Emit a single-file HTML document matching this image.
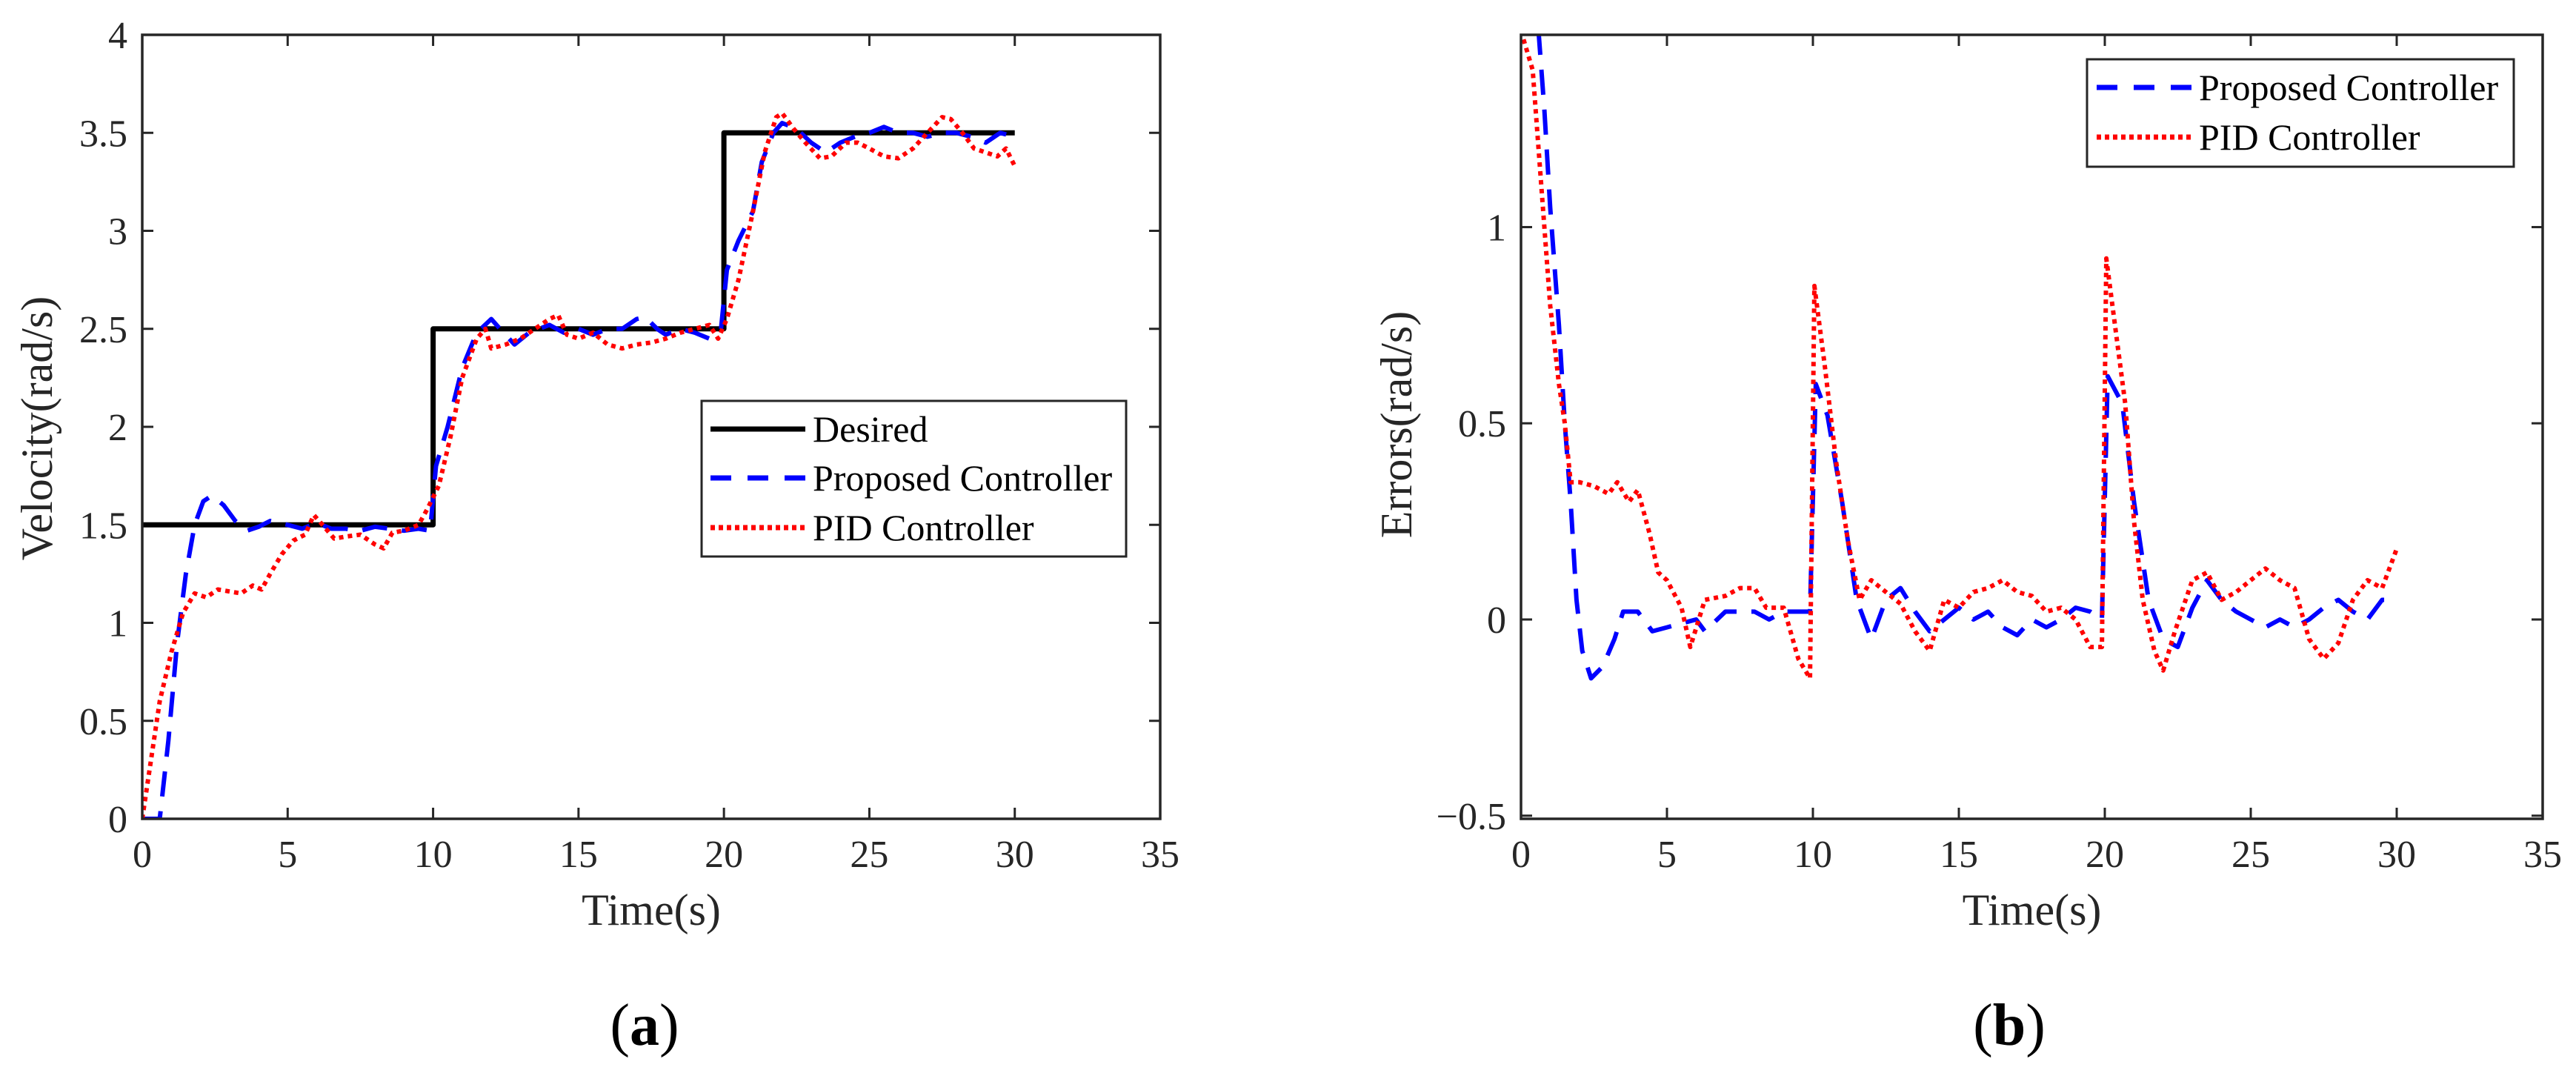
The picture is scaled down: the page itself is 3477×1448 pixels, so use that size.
<!DOCTYPE html>
<html><head><meta charset="utf-8"><style>
html,body{margin:0;padding:0;background:#fff;}
svg{display:block;font-family:"Liberation Serif",serif;}
</style></head><body>
<svg id="fig" width="3477" height="1448" viewBox="0 0 3477 1448" xmlns="http://www.w3.org/2000/svg"></svg>
<script>
// ---- Chart (a) data ----
const tDes = [0, 10, 10, 20, 20, 30];
const vDes = [1.5, 1.5, 2.5, 2.5, 3.5, 3.5];
const tPropA = [0,0.6,0.9,1.2,1.5,1.8,2.1,2.4,2.8,3.2,3.6,4,4.4,5,5.5,6,6.5,7,7.5,8,8.5,9,9.5,9.9,10.1,10.5,11,11.5,12,12.3,12.8,13.3,14,14.5,15,15.5,16,16.5,17,17.3,17.7,18,18.5,19,19.5,19.9,20.1,20.5,21,21.3,21.7,22,22.5,23,23.5,24,24.5,25,25.5,26,26.5,27,27.5,28,28.5,29,29.5,30];
const vPropA = [0,0,0.4,0.9,1.25,1.5,1.62,1.65,1.6,1.52,1.47,1.49,1.52,1.5,1.48,1.51,1.48,1.48,1.47,1.49,1.48,1.47,1.48,1.47,1.8,2.0,2.3,2.48,2.55,2.5,2.42,2.48,2.52,2.48,2.5,2.47,2.5,2.5,2.55,2.56,2.5,2.47,2.5,2.48,2.45,2.5,2.8,2.95,3.1,3.35,3.5,3.55,3.52,3.45,3.4,3.45,3.48,3.5,3.53,3.5,3.5,3.48,3.5,3.5,3.48,3.45,3.5,3.48];
const tPidA = [0,0.3,0.6,1,1.4,1.8,2.2,2.6,3,3.4,3.8,4.1,4.4,4.8,5.2,5.6,5.9,6.2,6.6,7,7.5,8,8.3,8.6,9,9.5,9.8,10.2,10.6,11,11.5,11.8,12,12.5,13,13.5,14,14.3,14.6,15,15.5,16,16.5,17,17.5,18,18.5,19,19.5,19.8,20.1,20.5,21,21.4,21.8,22,22.4,22.8,23.3,23.7,24.2,24.6,25,25.5,26,26.5,27,27.5,27.8,28.2,28.6,29,29.4,29.7,30];
const vPidA = [0,0.3,0.6,0.85,1.05,1.15,1.13,1.17,1.16,1.15,1.19,1.17,1.25,1.35,1.42,1.45,1.55,1.5,1.43,1.44,1.45,1.4,1.38,1.46,1.47,1.5,1.58,1.7,1.95,2.25,2.45,2.5,2.4,2.42,2.45,2.5,2.55,2.57,2.47,2.45,2.48,2.42,2.4,2.42,2.43,2.45,2.48,2.5,2.52,2.45,2.55,2.75,3.1,3.4,3.58,3.6,3.52,3.45,3.37,3.38,3.45,3.45,3.42,3.38,3.37,3.42,3.5,3.58,3.57,3.5,3.42,3.4,3.38,3.42,3.33];
const xTicksA = [0,5,10,15,20,25,30,35];
const yTicksA = [0,0.5,1,1.5,2,2.5,3,3.5,4];
const yTickLabelsA = ["0","0.5","1","1.5","2","2.5","3","3.5","4"];
// ---- Chart (b) data ----
const tPropB = [0,0.5,0.8,1,1.3,1.5,1.7,1.9,2.1,2.4,2.8,3.2,3.5,4,4.5,5,6,6.3,7,8,8.5,9,9.5,9.9,10.1,10.5,11,11.5,12,12.5,13,13.5,14,14.5,15,15.5,16,16.5,17,17.5,18,18.5,19,19.5,19.9,20.1,20.6,21,21.5,22,22.5,23,23.5,24,24.5,25,25.5,26,26.5,27,27.5,28,28.5,29,29.5,30];
const ePropB = [1.7,1.6,1.3,1.05,0.75,0.5,0.3,0.05,-0.08,-0.15,-0.12,-0.05,0.02,0.02,-0.03,-0.02,0.0,-0.03,0.02,0.02,0.0,0.02,0.02,0.02,0.6,0.52,0.3,0.05,-0.05,0.05,0.08,0.02,-0.03,0.0,0.03,0.0,0.02,-0.02,-0.04,0.0,-0.02,0.0,0.03,0.02,0.0,0.62,0.55,0.3,0.05,-0.05,-0.07,0.03,0.1,0.05,0.02,0.0,-0.02,0.0,-0.02,0.0,0.03,0.05,0.02,0.0,0.05,0.05];
const tPidB = [0,0.4,0.7,1,1.3,1.5,1.7,2,2.5,3,3.3,3.7,4,4.4,4.7,5,5.5,5.8,6.3,7,7.5,8,8.4,9,9.5,9.9,10.05,10.4,10.8,11.2,11.6,12,12.5,13,13.5,14,14.5,15,15.5,16,16.5,17,17.5,18,18.5,19,19.5,19.9,20.05,20.4,20.7,21,21.3,21.7,22,22.4,23,23.5,24,24.5,25,25.5,26,26.5,27,27.5,28,28.5,29,29.5,30];
const ePidB = [1.5,1.4,1.1,0.8,0.6,0.5,0.35,0.35,0.34,0.32,0.35,0.3,0.33,0.22,0.12,0.1,0.03,-0.07,0.05,0.06,0.08,0.08,0.03,0.03,-0.1,-0.15,0.85,0.65,0.4,0.2,0.05,0.1,0.07,0.04,-0.03,-0.08,0.05,0.03,0.07,0.08,0.1,0.07,0.06,0.02,0.03,0.0,-0.07,-0.07,0.92,0.72,0.55,0.25,0.05,-0.08,-0.13,-0.03,0.1,0.12,0.05,0.07,0.1,0.13,0.1,0.08,-0.05,-0.1,-0.06,0.05,0.1,0.08,0.18];
const xTicksB = [0,5,10,15,20,25,30,35];
const yTicksB = [-0.5,0,0.5,1];
const yTickLabelsB = ["\u22120.5","0","0.5","1"];

const NS = "http://www.w3.org/2000/svg";
const svg = document.getElementById("fig");
function mk(tag, attrs, parent){
  const e = document.createElementNS(NS, tag);
  for (const k in attrs) e.setAttribute(k, attrs[k]);
  (parent||svg).appendChild(e);
  return e;
}
function makeScale(d0,d1,r0,r1){ return v => r0 + (v-d0)/(d1-d0)*(r1-r0); }

function drawChart(cfg){
  const g = mk("g", {});
  
  
  const X = makeScale(cfg.xmin,cfg.xmax,cfg.L,cfg.R);
  const Y = makeScale(cfg.ymin,cfg.ymax,cfg.B,cfg.T);
  const clipId = cfg.name+"-clip";
  const defs = mk("defs",{},g);
  const cp = mk("clipPath",{id:clipId},defs);
  mk("rect",{x:cfg.L,y:cfg.T,width:cfg.R-cfg.L,height:cfg.B-cfg.T},cp);
  // ticks
  cfg.xTicks.forEach(v=>{
    const x = X(v);
    const t1 = mk("line",{x1:x,x2:x,y1:cfg.B,y2:cfg.B-15,stroke:"#262626","stroke-width":3},g);
    
    
    mk("line",{x1:x,x2:x,y1:cfg.T,y2:cfg.T+15,stroke:"#262626","stroke-width":3},g);
    const tx = mk("text",{x:x,y:cfg.B+65,"font-size":52,fill:"#262626","text-anchor":"middle"},g);
    tx.textContent = String(v);
    
    
  });
  cfg.yTicks.forEach((v,i)=>{
    const y = Y(v);
    const t1 = mk("line",{x1:cfg.L,x2:cfg.L+15,y1:y,y2:y,stroke:"#262626","stroke-width":3},g);
    
    
    mk("line",{x1:cfg.R,x2:cfg.R-15,y1:y,y2:y,stroke:"#262626","stroke-width":3},g);
    const tx = mk("text",{x:cfg.L-20,y:y+18,"font-size":52,fill:"#262626","text-anchor":"end"},g);
    tx.textContent = cfg.yLabels[i];
    
    
  });
  // series
  const sg = mk("g",{"clip-path":"url(#"+clipId+")"},g);
  cfg.series.forEach(s=>{
    const pts = s.t.map((t,i)=>X(t).toFixed(1)+","+Y(s.v[i]).toFixed(1)).join(" ");
    const p = mk("polyline",{points:pts,fill:"none",stroke:s.color,"stroke-width":s.w,"stroke-dasharray":s.dash||"none","stroke-linejoin":"round"},sg);
    
    
  });
  // box
  const box = mk("rect",{x:cfg.L,y:cfg.T,width:cfg.R-cfg.L,height:cfg.B-cfg.T,fill:"none",stroke:"#262626","stroke-width":3.5},g);
  
  
  // labels
  const xl = mk("text",{x:(cfg.L+cfg.R)/2,y:1248,"font-size":60,fill:"#262626","text-anchor":"middle"},g);
  xl.textContent = "Time(s)";
  
  
  const yl = mk("text",{x:0,y:0,"font-size":60,fill:"#262626","text-anchor":"middle",transform:"translate("+cfg.ylx+","+cfg.yly+") rotate(-90)"},g);
  yl.textContent = cfg.ylabel;
  
  
  const cap = mk("text",{x:cfg.capX,y:1410,"font-size":80,fill:"#000","text-anchor":"middle"},g);
  cap.innerHTML = '(<tspan font-weight="bold">'+cfg.cap+'</tspan>)';
  
  
  // legend
  const lg = mk("g",{},g);
  
  
  const lb = cfg.legend;
  mk("rect",{x:lb.x,y:lb.y,width:lb.w,height:lb.h,fill:"#fff",stroke:"#262626","stroke-width":3},lg);
  lb.items.forEach(it=>{
    const e = mk("g",{},lg);
    
    
    mk("line",{x1:lb.lx1,x2:lb.lx2,y1:it.y,y2:it.y,stroke:it.color,"stroke-width":it.w,"stroke-dasharray":it.dash||"none"},e);
    const t = mk("text",{x:lb.tx,y:it.y+17,"font-size":50,fill:"#000"},e);
    t.textContent = it.label;
  });
}

drawChart({name:"velocity-chart",L:192,R:1566,T:47,B:1105,xmin:0,xmax:35,ymin:0,ymax:4,
  xTicks:xTicksA,yTicks:yTicksA,yLabels:yTickLabelsA,ylabel:"Velocity(rad/s)",ylx:70,yly:578,capX:870,cap:"a",
  series:[
    {name:"desired-line",t:tDes,v:vDes,color:"#000",w:7},
    {name:"proposed-controller-line",t:tPropA,v:vPropA,color:"#0000ff",w:6,dash:"34 20"},
    {name:"pid-controller-line",t:tPidA,v:vPidA,color:"#ff0000",w:6,dash:"6 6"}
  ],
  legend:{x:947,y:541,w:573,h:210,lx1:959,lx2:1087,tx:1097,items:[
    {label:"Desired",y:579,color:"#000",w:7},
    {label:"Proposed Controller",y:645,color:"#0000ff",w:7,dash:"28 22"},
    {label:"PID Controller",y:712,color:"#ff0000",w:7,dash:"6 5"}
  ]}
});
drawChart({name:"error-chart",L:2053,R:3432,T:47,B:1105,xmin:0,xmax:35,ymin:-0.508,ymax:1.49,
  xTicks:xTicksB,yTicks:yTicksB,yLabels:yTickLabelsB,ylabel:"Errors(rad/s)",ylx:1905,yly:573,capX:2712,cap:"b",
  series:[
    {name:"proposed-controller-error-line",t:tPropB,v:ePropB,color:"#0000ff",w:6,dash:"34 20"},
    {name:"pid-controller-error-line",t:tPidB,v:ePidB,color:"#ff0000",w:6,dash:"6 6"}
  ],
  legend:{x:2817,y:80,w:576,h:145,lx1:2830,lx2:2959,tx:2968,items:[
    {label:"Proposed Controller",y:118,color:"#0000ff",w:7,dash:"28 22"},
    {label:"PID Controller",y:185,color:"#ff0000",w:7,dash:"6 5"}
  ]}
});
</script>
</body></html>
